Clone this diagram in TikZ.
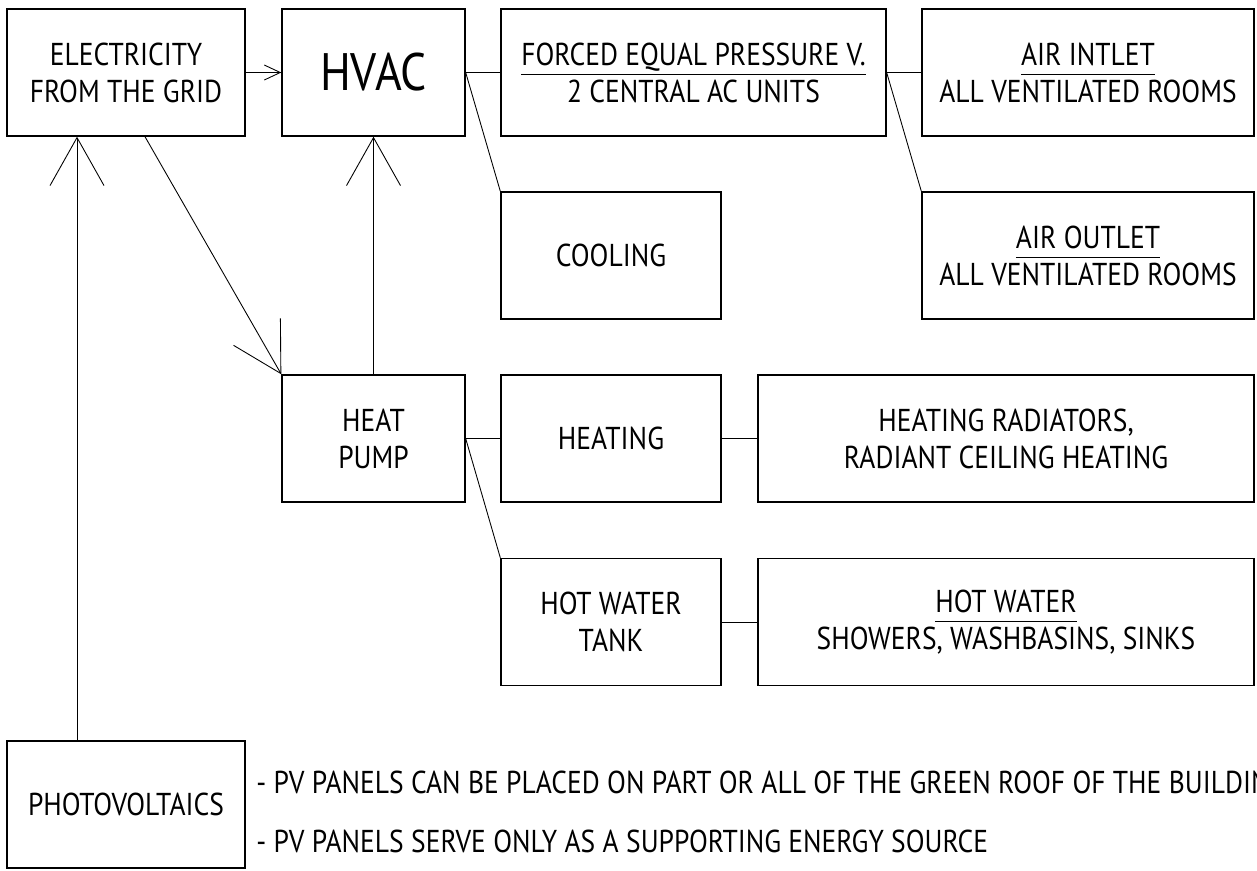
\documentclass[tikz,border=0pt]{standalone}
\usepackage{fontspec}
\setmainfont{PT Sans}[FakeStretch=0.87]
\usetikzlibrary{arrows.meta, positioning}

\newcommand{\ulhead}[1]{\underline{#1\vphantom{y}}}

\tikzset{
  box/.style={draw, line width=0.8pt, minimum height=2.54cm, inner sep=0pt,
    align=center, font=\fontsize{18}{21}\selectfont},
  note/.style={inner sep=0pt, font=\fontsize{18}{21}\selectfont},
  link/.style={line width=0.5pt},
  arr/.style={link, -{Straight Barb[length=0.32cm, width=0.3cm]}},
  bigarr/.style={link, -{Straight Barb[length=0.96cm, width=1.08cm]}},
}

\begin{document}
\begin{tikzpicture}[x=0.02cm, y=-0.02cm]
  \useasboundingbox (0,0) rectangle (1257,870);

  % top row
  \node[box, minimum width=4.76cm] (grid) at (126,72.5) {ELECTRICITY\\FROM THE GRID};
  \node[box, minimum width=3.66cm, font=\fontsize{30}{32}\selectfont] (hvac) at (373.5,72.5) {HVAC};
  \node[box, minimum width=7.7cm] (forced) at (693.5,72.5) {\ulhead{FORCED EQUAL PRESSURE V.}\\2 CENTRAL AC UNITS};
  \node[box, minimum width=6.64cm] (inlet) at (1088,72.5) {\ulhead{AIR INTLET}\\ALL VENTILATED ROOMS};

  % second row
  \node[box, minimum width=4.4cm] (cooling) at (611,255.5) {COOLING};
  \node[box, minimum width=6.64cm] (outlet) at (1088,255.5) {\ulhead{AIR OUTLET}\\ALL VENTILATED ROOMS};

  % heat pump row
  \node[box, minimum width=3.66cm] (pump) at (373.5,438.5) {HEAT\\PUMP};
  \node[box, minimum width=4.4cm] (heating) at (611,438.5) {HEATING};
  \node[box, minimum width=9.92cm] (radiators) at (1006,438.5) {HEATING RADIATORS,\\RADIANT CEILING HEATING};

  % hot water row
  \node[box, minimum width=4.4cm] (tank) at (611,622) {HOT WATER\\TANK};
  \node[box, minimum width=9.92cm] (hotwater) at (1006,622) {\ulhead{HOT WATER}\\SHOWERS, WASHBASINS, SINKS};

  % photovoltaics
  \node[box, minimum width=4.76cm] (pv) at (126,804.5) {PHOTOVOLTAICS};
  \node[note, anchor=base west] (pvnote1) at (256,793) {- PV PANELS CAN BE PLACED ON PART OR ALL OF THE GREEN ROOF OF THE BUILDING};
  \node[note, anchor=base west] (pvnote2) at (256,852) {- PV PANELS SERVE ONLY AS A SUPPORTING ENERGY SOURCE};

  % connections
  \draw[arr] (grid) -- (hvac);
  \draw[link] (hvac) -- (forced);
  \draw[link] (hvac.east) -- (cooling.north west);
  \draw[link] (forced) -- (inlet);
  \draw[link] (forced.east) -- (outlet.north west);
  \draw[link] (pump) -- (heating);
  \draw[link] (pump.east) -- (tank.north west);
  \draw[link] (heating) -- (radiators);
  \draw[link] (tank) -- (hotwater);

  % supply arrows
  \draw[bigarr] (pump) -- (hvac);
  \draw[bigarr] ([xshift=0.38cm]grid.south) -- (pump.north west);
  \draw[bigarr] ([xshift=-0.98cm]pv.north) -- ([xshift=-0.98cm]grid.south);
\end{tikzpicture}
\end{document}
